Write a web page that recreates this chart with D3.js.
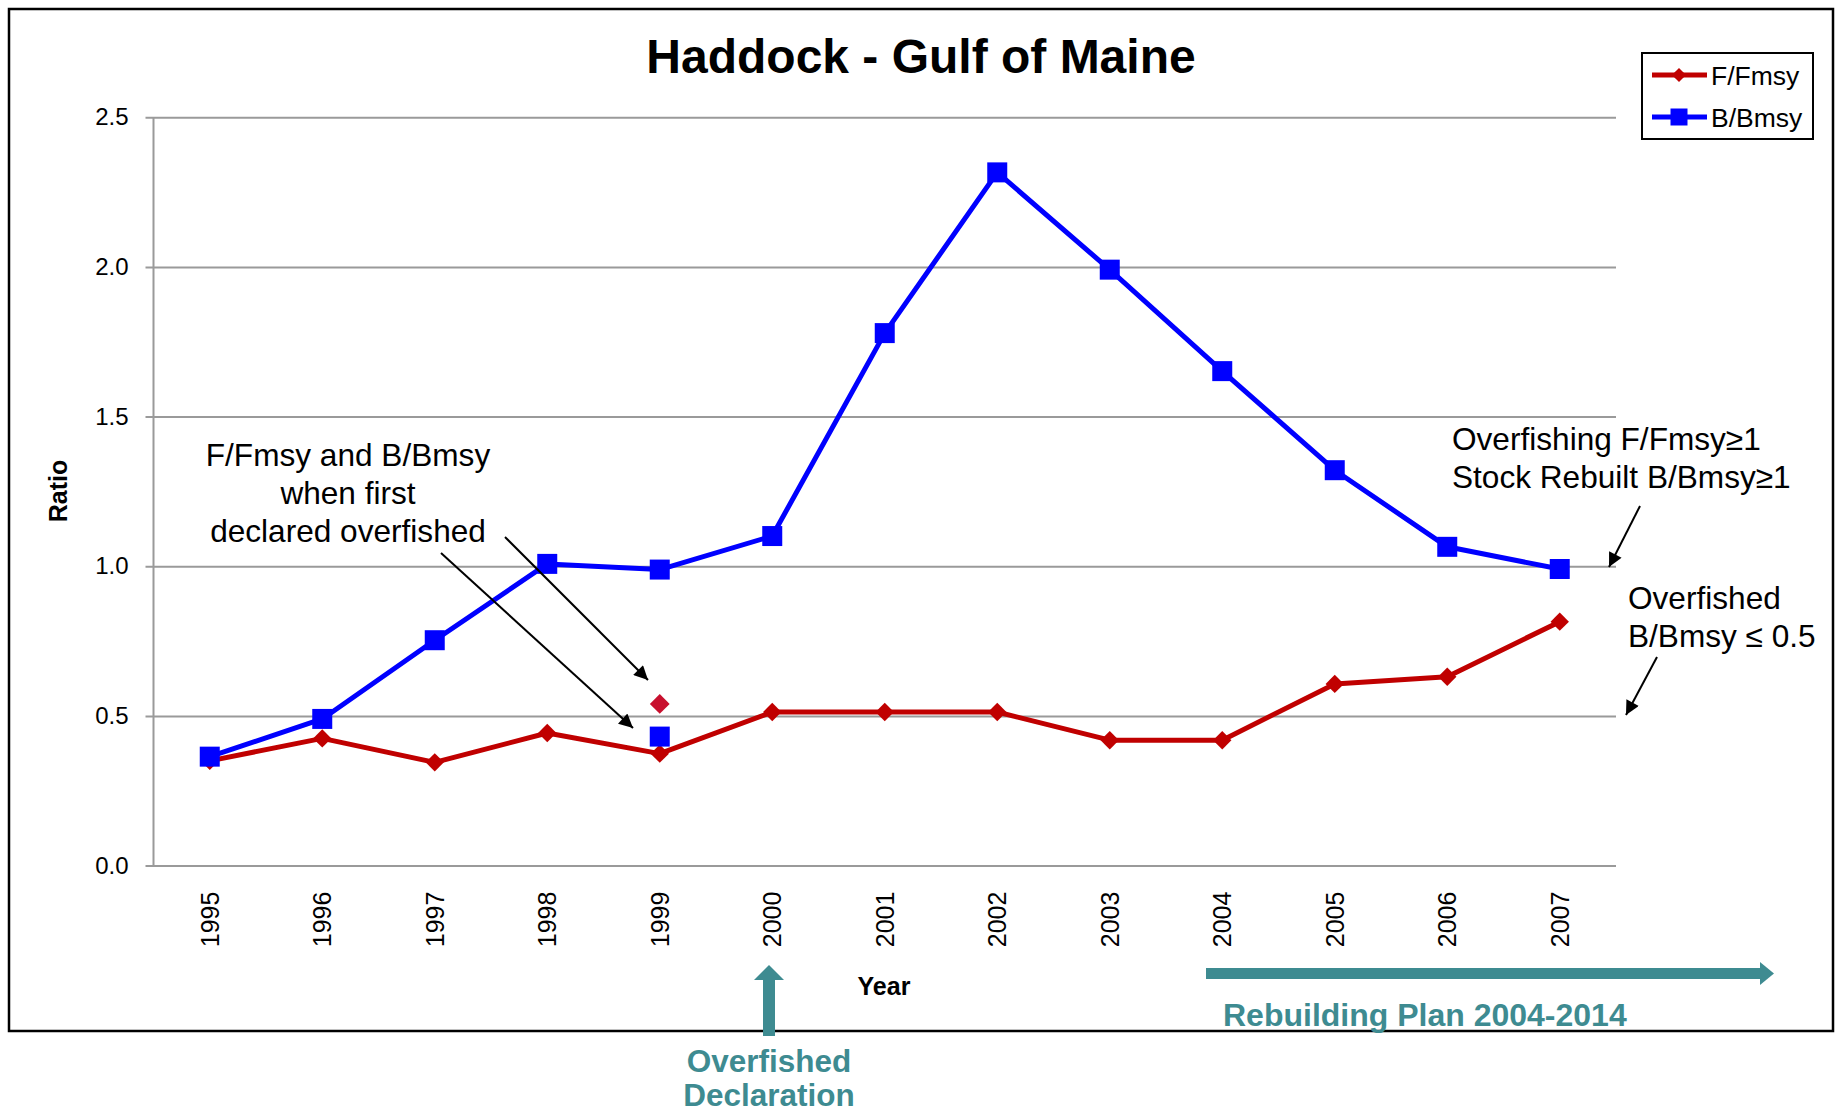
<!DOCTYPE html>
<html>
<head>
<meta charset="utf-8">
<script src="https://cdn.jsdelivr.net/npm/d3@7"></script>
<style>
  html, body { margin: 0; padding: 0; background: #fff; }
  svg { display: block; font-family: "Liberation Sans", Arial, sans-serif; }
</style>
</head>
<body>
<svg id="chart" width="1839" height="1114"></svg>
<script>
// ---- Data ----
const years = ["1995","1996","1997","1998","1999","2000","2001","2002","2003","2004","2005","2006","2007"];
const fFmsy = [0.35, 0.425, 0.345, 0.443, 0.374, 0.513, 0.513, 0.513, 0.419, 0.419, 0.607, 0.631, 0.815];
const bBmsy = [0.364, 0.49, 0.753, 1.008, 0.989, 1.101, 1.779, 2.316, 1.991, 1.652, 1.321, 1.065, 0.991];
const declaredYear = ["1999"];
const declaredF = [0.54];
const declaredB = [0.431];
const yTicks = [0, 0.5, 1.0, 1.5, 2.0, 2.5];
const seriesNames = ["F/Fmsy", "B/Bmsy"];

// ---- Layout ----
const svg = d3.select("#chart");
const plotLeft = 153.5, plotRight = 1616, plotTop = 117.3, plotBottom = 865.6;
const plotW = plotRight - plotLeft;
const RED = "#C00000", BLUE = "#0000FF", TEAL = "#3E8B91", GRID = "#9A9A9A";

const x = d3.scaleBand().domain(years).range([plotLeft, plotRight]).padding(0);
const cx = d => x(d) + x.bandwidth() / 2;
const y = d3.scaleLinear().domain([0, 2.5]).range([plotBottom, plotTop]);

// outer border
svg.append("rect").attr("x", 9).attr("y", 9).attr("width", 1824).attr("height", 1022)
  .attr("fill", "none").attr("stroke", "#000").attr("stroke-width", 2.5);

// title
svg.append("text").attr("x", 921).attr("y", 73).attr("text-anchor", "middle")
  .attr("font-size", 48).attr("font-weight", "bold").text("Haddock - Gulf of Maine");

// y axis with gridlines
const yAxisG = svg.append("g").attr("transform", `translate(${plotLeft - 8},0)`)
  .call(d3.axisLeft(y).tickValues(yTicks).tickFormat(d3.format(".1f"))
    .tickSizeInner(-(plotW + 8)).tickSizeOuter(0).tickPadding(17));
yAxisG.select(".domain").remove();
yAxisG.selectAll(".tick line").attr("stroke", GRID).attr("stroke-width", 2);
yAxisG.selectAll(".tick text").attr("font-size", 24).attr("fill", "#000")
  .attr("font-family", "Liberation Sans, Arial, sans-serif");

// y axis line
svg.append("line").attr("x1", plotLeft).attr("x2", plotLeft).attr("y1", y(2.5)).attr("y2", y(0))
  .attr("stroke", GRID).attr("stroke-width", 2);

// x axis labels
const xAxisG = svg.append("g").attr("transform", `translate(0,${plotBottom})`)
  .call(d3.axisBottom(x).tickSize(0));
xAxisG.select(".domain").remove();
xAxisG.selectAll(".tick text")
  .attr("font-size", 25).attr("fill", "#000")
  .attr("font-family", "Liberation Sans, Arial, sans-serif")
  .attr("transform", "rotate(-90)")
  .attr("text-anchor", "end")
  .attr("x", -26).attr("y", 0).attr("dy", "0.35em");

// axis titles
svg.append("text").attr("transform", "translate(67,491) rotate(-90)")
  .attr("text-anchor", "middle").attr("font-size", 25).attr("font-weight", "bold").text("Ratio");
svg.append("text").attr("x", 884).attr("y", 995).attr("text-anchor", "middle")
  .attr("font-size", 25).attr("font-weight", "bold").text("Year");

// lines
const line = d3.line().x((d, i) => cx(years[i])).y(d => y(d));
svg.append("path").datum(fFmsy).attr("d", line).attr("fill", "none")
  .attr("stroke", RED).attr("stroke-width", 5).attr("stroke-linejoin", "round");
svg.append("path").datum(bBmsy).attr("d", line).attr("fill", "none")
  .attr("stroke", BLUE).attr("stroke-width", 5).attr("stroke-linejoin", "round");

const diamond = d3.symbol().type(d3.symbolSquare).size(13 * 13);
const square = d3.symbol().type(d3.symbolSquare).size(20 * 20);

svg.selectAll(".fpt").data(fFmsy).join("path")
  .attr("d", diamond)
  .attr("transform", (d, i) => `translate(${cx(years[i])},${y(d)}) rotate(45)`)
  .attr("fill", RED);
svg.selectAll(".bpt").data(bBmsy).join("path")
  .attr("d", square)
  .attr("transform", (d, i) => `translate(${cx(years[i])},${y(d)})`)
  .attr("fill", BLUE);

// isolated declared points
svg.selectAll(".dF").data(declaredF).join("path")
  .attr("d", d3.symbol().type(d3.symbolSquare).size(14 * 14))
  .attr("transform", (d, i) => `translate(${cx(declaredYear[i])},${y(d)}) rotate(45)`)
  .attr("fill", "#C8102E");
svg.selectAll(".dB").data(declaredB).join("path")
  .attr("d", square)
  .attr("transform", (d, i) => `translate(${cx(declaredYear[i])},${y(d)})`)
  .attr("fill", BLUE);

// legend
const lg = svg.append("g");
lg.append("rect").attr("x", 1642).attr("y", 53).attr("width", 171).attr("height", 86)
  .attr("fill", "#fff").attr("stroke", "#000").attr("stroke-width", 2);
const legendItems = [
  { name: seriesNames[0], color: RED, type: "diamond", yy: 75 },
  { name: seriesNames[1], color: BLUE, type: "square", yy: 117 }
];
legendItems.forEach(it => {
  lg.append("line").attr("x1", 1652).attr("x2", 1707).attr("y1", it.yy).attr("y2", it.yy)
    .attr("stroke", it.color).attr("stroke-width", 5);
  if (it.type === "diamond") {
    lg.append("path").attr("d", d3.symbol().type(d3.symbolSquare).size(10 * 10))
      .attr("transform", `translate(1679,${it.yy}) rotate(45)`).attr("fill", it.color);
  } else {
    lg.append("path").attr("d", d3.symbol().type(d3.symbolSquare).size(17 * 17))
      .attr("transform", `translate(1679,${it.yy})`).attr("fill", it.color);
  }
  lg.append("text").attr("x", 1711).attr("y", it.yy + 10).attr("font-size", 26.5).text(it.name);
});

// arrow marker
const defs = svg.append("defs");
defs.append("marker").attr("id", "ah").attr("viewBox", "0 0 10 10").attr("refX", 10).attr("refY", 5)
  .attr("markerWidth", 8).attr("markerHeight", 7).attr("markerUnits", "strokeWidth")
  .attr("orient", "auto")
  .append("path").attr("d", "M0,0 L10,5 L0,10 Z").attr("fill", "#000");

function arrow(x1, y1, x2, y2) {
  svg.append("line").attr("x1", x1).attr("y1", y1).attr("x2", x2).attr("y2", y2)
    .attr("stroke", "#000").attr("stroke-width", 2).attr("marker-end", "url(#ah)");
}

// annotation: first declared
const ann1 = ["F/Fmsy and B/Bmsy", "when first", "declared overfished"];
ann1.forEach((t, i) => {
  svg.append("text").attr("x", 348).attr("y", 466 + i * 38).attr("text-anchor", "middle")
    .attr("font-size", 31.6).text(t);
});
arrow(505, 537, 648, 680);
arrow(441, 553, 633, 728);

// annotation: thresholds
svg.append("text").attr("x", 1452).attr("y", 450).attr("font-size", 31.6).text("Overfishing F/Fmsy\u22651");
svg.append("text").attr("x", 1452).attr("y", 488).attr("font-size", 31.6).text("Stock Rebuilt B/Bmsy\u22651");
arrow(1640, 506, 1609, 567);
svg.append("text").attr("x", 1628).attr("y", 609).attr("font-size", 31.6).text("Overfished");
svg.append("text").attr("x", 1628).attr("y", 647).attr("font-size", 31.6).text("B/Bmsy \u2264 0.5");
arrow(1657, 657, 1626, 715);

// Rebuilding plan arrow
svg.append("rect").attr("x", 1206).attr("y", 968).attr("width", 557).attr("height", 11).attr("fill", TEAL);
svg.append("path").attr("d", "M1760,962 L1774,973.5 L1760,985 Z").attr("fill", TEAL);
svg.append("text").attr("x", 1223).attr("y", 1026).attr("font-size", 32).attr("font-weight", "bold")
  .attr("fill", TEAL).text("Rebuilding Plan 2004-2014");

// Overfished declaration arrow
svg.append("rect").attr("x", 763).attr("y", 979).attr("width", 12).attr("height", 57).attr("fill", TEAL);
svg.append("path").attr("d", "M754,980 L769,965 L784,980 Z").attr("fill", TEAL);
svg.append("text").attr("x", 769).attr("y", 1072).attr("text-anchor", "middle").attr("font-size", 31.5)
  .attr("font-weight", "bold").attr("fill", TEAL).text("Overfished");
svg.append("text").attr("x", 769).attr("y", 1106).attr("text-anchor", "middle").attr("font-size", 31.5)
  .attr("font-weight", "bold").attr("fill", TEAL).text("Declaration");
</script>
</body>
</html>
